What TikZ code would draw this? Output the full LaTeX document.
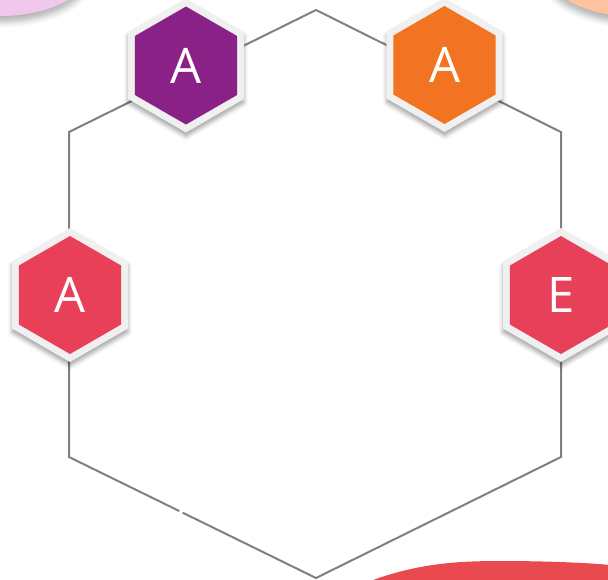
\documentclass[tikz,border=0pt]{standalone}
\usepackage{fontspec}
\setmainfont{Open Sans}
\usetikzlibrary{shapes.geometric,shadows.blur,calc}
\definecolor{hexgray}{HTML}{F0F0F0}
\definecolor{linegray}{HTML}{808080}
\definecolor{cpurple}{HTML}{8A2187}
\definecolor{corange}{HTML}{F27321}
\definecolor{cred}{HTML}{E9405A}
\definecolor{cpink}{HTML}{F1C7EE}
\definecolor{cpeach}{HTML}{FFC29E}
\definecolor{cblob}{HTML}{E94A4F}
\tikzset{
  hexframe/.style={regular polygon, regular polygon sides=6, shape border rotate=30,
    minimum size=134pt, inner sep=0pt, fill=hexgray,
    blur shadow={shadow xshift=0pt, shadow yshift=-4pt, shadow blur radius=4pt, shadow opacity=35}},
  hexcore/.style={regular polygon, regular polygon sides=6, shape border rotate=30,
    minimum size=118pt, inner sep=0pt, text=white, font=\fontsize{49}{49}\selectfont},
  bigline/.style={draw=linegray, line width=2pt},
  blobshadow/.style={blur shadow={shadow xshift=0pt, shadow yshift=-6pt, shadow blur radius=6pt, shadow opacity=30}}
}
\begin{document}
\begin{tikzpicture}[x=1pt,y=-1pt]
\useasboundingbox (0,0) rectangle (608,579);
\begin{scope}
\clip (0,0) rectangle (608,579);
% corner blobs
\fill[cpink, blobshadow] (0,-30) ellipse [x radius=90, y radius=46];
\fill[cpeach, blobshadow] (645,-30) ellipse [x radius=100, y radius=48];
\fill[cblob] (373,580) .. controls (420,563) and (460,561) .. (500,561)
  .. controls (550,561) and (590,563) .. (610,565) -- (610,580) -- cycle;
\end{scope}
% big hexagon
\coordinate (top) at (316,10);
\coordinate (ur) at (561,132);
\coordinate (lr) at (561,457);
\coordinate (bot) at (316,578);
\coordinate (ll) at (69,457);
\coordinate (ul) at (69,132);
\coordinate (gapa) at ($(ll)!0.4466!(bot)$);
\coordinate (gapb) at ($(ll)!0.460!(bot)$);
\draw[bigline] (gapb) -- (bot) -- (lr) -- (ur) -- (top) -- (ul) -- (ll) -- (gapa);
% small hexagons
\node[hexframe] (fpA) at (186,65.5) {};
\node[hexcore, fill=cpurple] (hpA) at (186,65.5) {A};
\node[hexframe] (foA) at (444.5,65) {};
\node[hexcore, fill=corange] (hoA) at (444.5,65) {A};
\node[hexframe] (flA) at (70,295) {};
\node[hexcore, fill=cred] (hlA) at (70,295) {A};
\node[hexframe] (frE) at (561,295) {};
\node[hexcore, fill=cred] (hrE) at (561,295) {E};
\end{tikzpicture}
\end{document}
